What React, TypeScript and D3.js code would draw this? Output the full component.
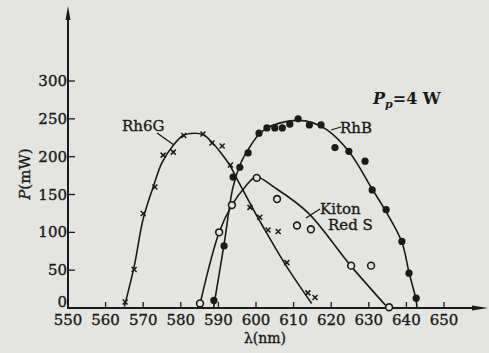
import React from "react";
import * as d3 from "d3";

const xTicks = [550, 560, 570, 580, 590, 600, 610, 620, 630, 640, 650];
const yTicks = [0, 50, 100, 150, 200, 250, 300];

// measured points [lambda nm, P mW]
const rh6gPoints: [number, number][] = [
  [565.2, 8], [567.6, 51], [570, 125], [573.1, 160], [575.3, 202], [578, 206],
  [580.8, 228], [585.9, 230], [588.3, 218], [591, 214], [593.2, 189], [598.4, 133],
  [601, 120], [603.2, 103], [605.9, 101], [608.2, 60], [613.8, 20], [615.7, 14],
];
const rhbPoints: [number, number][] = [
  [588.8, 10], [591.5, 82], [593.9, 173], [595.7, 186], [597.9, 205], [600.8, 231],
  [602.9, 238], [605, 238], [607, 238], [609, 243], [611.2, 250], [614.2, 242],
  [617.3, 242], [621, 212], [624.7, 207], [629, 194], [630.9, 156], [634.6, 130],
  [638.8, 88], [640.7, 46], [642.6, 13],
];
const kitonPoints: [number, number][] = [
  [585.1, 6], [590.2, 100], [593.6, 136], [600.2, 172], [605.6, 144], [610.9, 109],
  [614.6, 104], [625.3, 56], [630.6, 56], [635.4, 1],
];

// hand-fitted curves
const rh6gCurve: [number, number][] = [
  [565, 2], [567.6, 55], [570, 118], [572.6, 159], [575, 192], [578, 215],
  [580.6, 228], [583.5, 231], [586, 229], [588.3, 219], [590.5, 206], [593, 189],
  [595, 170], [597.6, 146], [600.3, 121], [602.4, 103], [608, 56], [614.8, 6],
];
const rhbCurve: [number, number][] = [
  [588.7, 0], [591.5, 84], [593.9, 160], [596, 192], [598, 210], [600.5, 228],
  [603, 238], [606, 244], [611, 248], [615, 245], [619, 235], [625, 205],
  [630.8, 158], [634.5, 128], [638.8, 87], [640.7, 47], [642.6, 10], [642.8, 0],
];
const kitonCurve: [number, number][] = [
  [585.1, 5], [590.2, 100], [593.6, 136], [597.1, 160], [600, 173], [605, 159],
  [613.8, 126], [625, 57], [635.1, 0],
];

const W = 489;
const H = 353;
const x = d3.scaleLinear().domain([550, 650]).range([68, 444]);
const y = d3.scaleLinear().domain([0, 300]).range([308, 81]);

const line = d3
  .line<[number, number]>()
  .x((d) => x(d[0]))
  .y((d) => y(d[1]))
  .curve(d3.curveCatmullRom.alpha(0.5));

const font = "'DejaVu Serif', 'Liberation Serif', serif";
const ink = "#1a1a1a";
const bg = "#e4e4e0";
const textStyle = { fill: ink, stroke: ink, strokeWidth: 0.35 };

export default function App() {
  return (
    <svg
      width={W}
      height={H}
      style={{ position: "absolute", left: 0, top: 0 }}
      fontFamily={font}
    >
      <rect x={0} y={0} width={W} height={H} fill={bg} />
      {/* axes */}
      <line x1={68} y1={308} x2={68} y2={14} stroke={ink} strokeWidth={2} />
      <path d="M68,6 L65.5,20 L70.5,20 Z" fill={ink} />
      <line x1={67} y1={308} x2={478} y2={308} stroke={ink} strokeWidth={2} />
      <path d="M488,308 L472,305.5 L472,310.5 Z" fill={ink} />
      {xTicks.map((t) => (
        <g key={"x" + t}>
          {t !== 550 && (
            <line x1={x(t)} x2={x(t)} y1={308} y2={302} stroke={ink} strokeWidth={1.3} />
          )}
          <text x={x(t)} y={325} textAnchor="middle" fontSize={15} {...textStyle}>
            {t}
          </text>
        </g>
      ))}
      {yTicks.map((t) => (
        <g key={"y" + t}>
          {t !== 0 && (
            <line x1={68} x2={75} y1={y(t)} y2={y(t)} stroke={ink} strokeWidth={1.3} />
          )}
          <text
            x={67}
            y={t === 0 ? y(t) - 1 : y(t) + 5}
            textAnchor="end"
            fontSize={15}
            {...textStyle}
          >
            {t}
          </text>
        </g>
      ))}
      <text
        transform="translate(30,174) rotate(-90)"
        textAnchor="middle"
        fontSize={15}
        {...textStyle}
      >
        <tspan fontStyle="italic">P</tspan>(mW)
      </text>
      <text x={265} y={343} textAnchor="middle" fontSize={14} {...textStyle}>
        λ(nm)
      </text>
      <text x={373} y={104} fontSize={16} fontWeight="bold" fill={ink}>
        <tspan fontStyle="italic">P</tspan>
        <tspan fontStyle="italic" fontSize={11} dy={4}>p</tspan>
        <tspan dy={-4}>=4 W</tspan>
      </text>

      {/* curves */}
      <path d={line(rh6gCurve) || ""} fill="none" stroke={ink} strokeWidth={1.6} />
      <path d={line(rhbCurve) || ""} fill="none" stroke={ink} strokeWidth={1.6} />
      <path d={line(kitonCurve) || ""} fill="none" stroke={ink} strokeWidth={1.6} />

      {/* markers */}
      {rh6gPoints.map((d, i) => (
        <path
          key={"r6" + i}
          d={`M${x(d[0]) - 2.5},${y(d[1]) - 2.5} L${x(d[0]) + 2.5},${y(d[1]) + 2.5} M${x(d[0]) - 2.5},${y(d[1]) + 2.5} L${x(d[0]) + 2.5},${y(d[1]) - 2.5}`}
          stroke={ink}
          strokeWidth={1.5}
        />
      ))}
      {rhbPoints.map((d, i) => (
        <circle key={"rb" + i} cx={x(d[0])} cy={y(d[1])} r={3.6} fill={ink} />
      ))}
      {kitonPoints.map((d, i) => (
        <circle
          key={"kt" + i}
          cx={x(d[0])}
          cy={y(d[1])}
          r={3.4}
          fill={bg}
          stroke={ink}
          strokeWidth={1.6}
        />
      ))}

      {/* labels with leaders */}
      <text x={122} y={131} fontSize={15} {...textStyle}>Rh6G</text>
      <line x1={157} y1={133} x2={174} y2={145} stroke={ink} strokeWidth={1.3} />
      <text x={340} y={133} fontSize={15} {...textStyle}>RhB</text>
      <line x1={331} y1={130} x2={341} y2={127} stroke={ink} strokeWidth={1.3} />
      <text x={320} y={214} fontSize={15} {...textStyle}>Kiton</text>
      <text x={328} y={230} fontSize={15} {...textStyle}>Red S</text>
      <line x1={306} y1={218} x2={320} y2={209} stroke={ink} strokeWidth={1.3} />
    </svg>
  );
}
